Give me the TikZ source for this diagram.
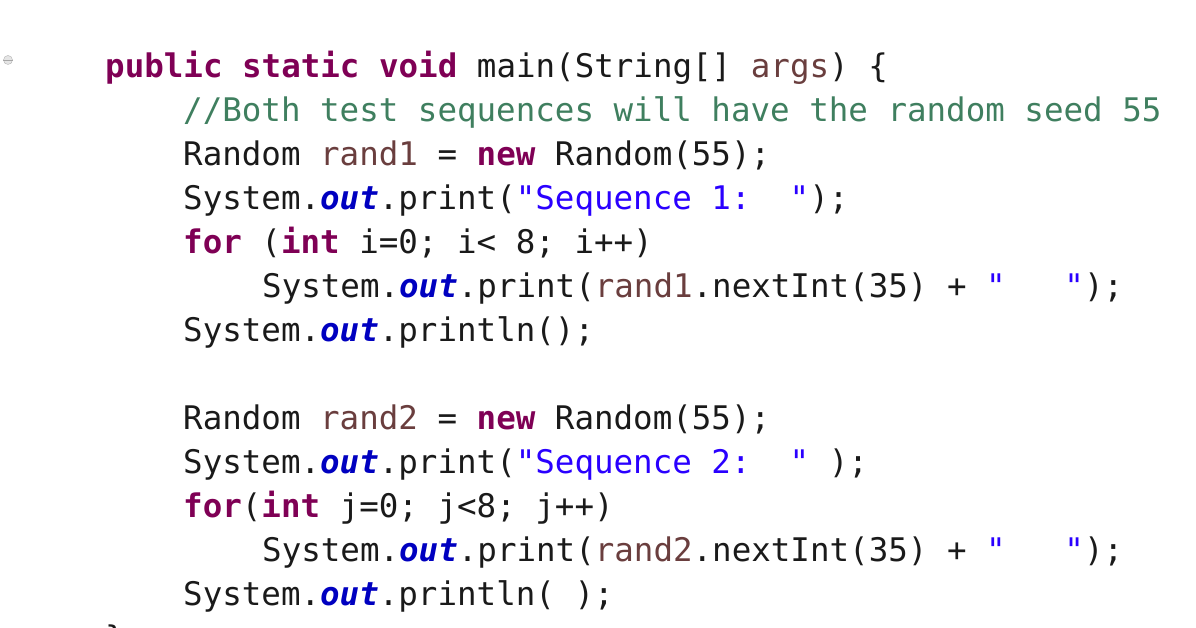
\documentclass[tikz,border=0pt]{standalone}
\usepackage{fontspec}
\setmonofont{DejaVu Sans Mono}
\definecolor{kwc}{HTML}{7F0055}
\definecolor{cmc}{HTML}{3F7F5F}
\definecolor{stc}{HTML}{2A00FF}
\definecolor{fdc}{HTML}{0000C0}
\definecolor{vrc}{HTML}{6A3E3E}
\definecolor{txc}{HTML}{1A1A1A}
\newcommand\kw[1]{{\color{kwc}\bfseries #1}}
\newcommand\cm[1]{{\color{cmc}#1}}
\newcommand\st[1]{{\color{stc}#1}}
\newcommand\vr[1]{{\color{vrc}#1}}
\newcommand\fo{{\color{fdc}\bfseries\itshape out}}
\tikzset{code/.style={anchor=base west,inner sep=0pt,font=\ttfamily\fontsize{32.5}{32.5}\selectfont,text=txc}}
\begin{document}
\begin{tikzpicture}[x=1pt,y=1pt]
\useasboundingbox (0,0) rectangle (1196,628);
\clip (0,0) rectangle (1196,628);
\fill[white] (0,0) rectangle (1196,628);
\node[circle,draw=gray!60,fill=gray!20,inner sep=0pt,minimum size=9pt] (m) at (8,568) {};
\draw[gray!70] (m.west) -- (m.east);
\node[code] (l1) at (105,550) {\kw{public static void} main(String[] \vr{args}) \{};
\node[code] (l2) at (183,506) {\cm{//Both test sequences will have the random seed 55}};
\node[code] (l3) at (183,462) {Random \vr{rand1} = \kw{new} Random(55);};
\node[code] (l4) at (183,418) {System.\fo.print(\st{"Sequence 1:~~"});};
\node[code] (l5) at (183,374) {\kw{for} (\kw{int} i=0; i< 8; i++)};
\node[code] (l6) at (262,330) {System.\fo.print(\vr{rand1}.nextInt(35) + \st{"~~~"});};
\node[code] (l7) at (183,286) {System.\fo.println();};
\node[code] (l8) at (183,198) {Random \vr{rand2} = \kw{new} Random(55);};
\node[code] (l9) at (183,154) {System.\fo.print(\st{"Sequence 2:~~"} );};
\node[code] (l10) at (183,110) {\kw{for}(\kw{int} j=0; j<8; j++)};
\node[code] (l11) at (262,66) {System.\fo.print(\vr{rand2}.nextInt(35) + \st{"~~~"});};
\node[code] (l12) at (183,22) {System.\fo.println( );};
\node[code] (l13) at (105,-22) {\}};
\end{tikzpicture}
\end{document}
